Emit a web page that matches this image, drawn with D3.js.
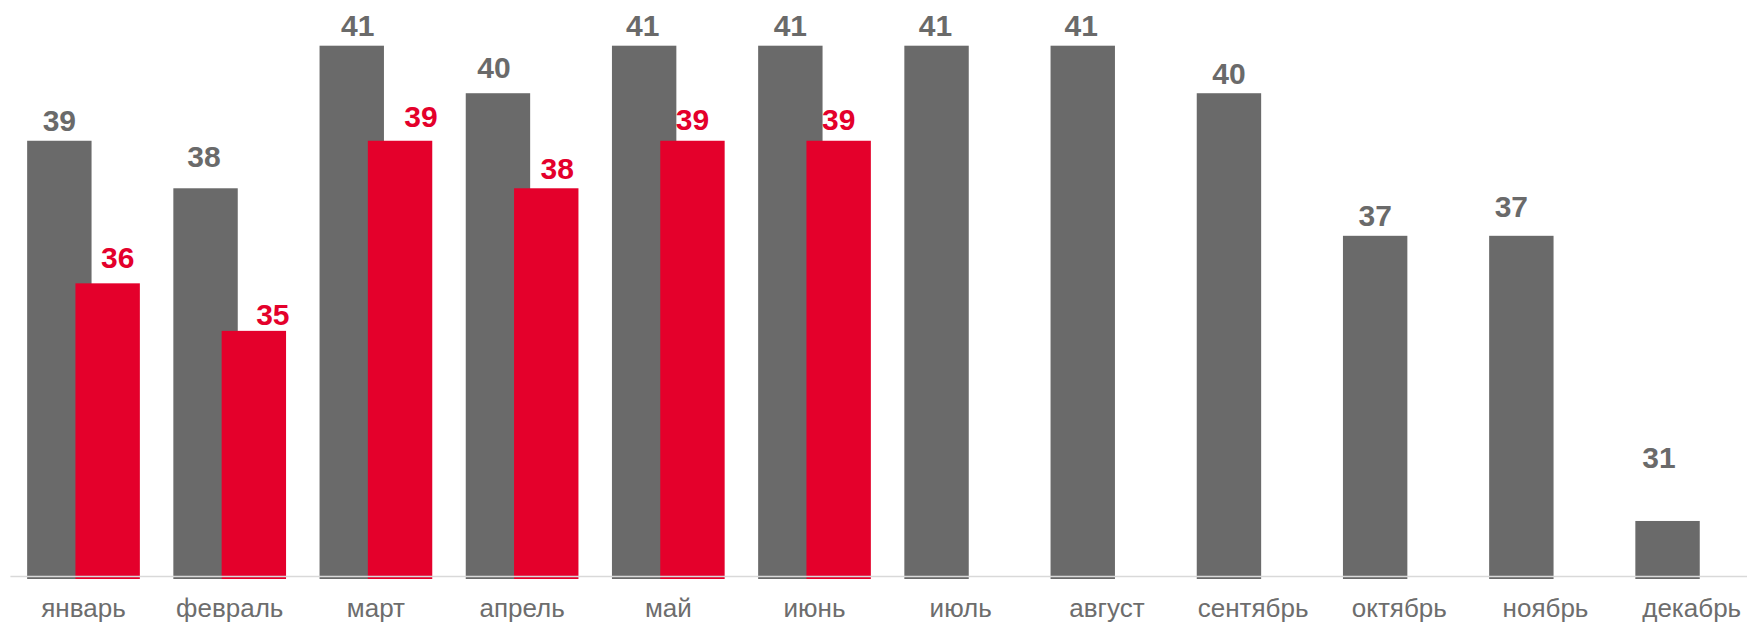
<!DOCTYPE html>
<html>
<head>
<meta charset="utf-8">
<script src="https://cdn.jsdelivr.net/npm/d3@7"></script>
<style>
  html, body { margin: 0; padding: 0; background: #ffffff; overflow: hidden; }
  svg { display: block; }
</style>
</head>
<body>
<svg id="chart" width="1747" height="622"></svg>
<script>
// ---- data ----
const months = ["январь","февраль","март","апрель","май","июнь","июль","август","сентябрь","октябрь","ноябрь","декабрь"];
const seriesGray = [39, 38, 41, 40, 41, 41, 41, 41, 40, 37, 37, 31];
const seriesRed  = [36, 35, 39, 38, 39, 39];

// manual label nudges (layout only) [dx, dy]
const grayLabelNudge = [[0,0],[-1.5,-12],[6,0],[-4,-6],[-1.5,0],[0,0],[-1,0],[-1.5,0],[0,0],[0,0],[-10,-9],[-8.5,-43]];
const redLabelNudge  = [[10,-6],[19,4],[21,-4],[11,0],[0,-1.3],[0,-1.3]];

// ---- layout ----
const W = 1747, H = 622;
const svg = d3.select("#chart");
const gray = "#6a6a6a", red = "#e4002b";
const font = "'Liberation Sans', Arial, sans-serif";

const step = 146.2, x0 = 10.4;
const x = d3.scaleBand().domain(months).range([x0, x0 + step * months.length]).padding(0);
const bw = x.bandwidth();
const barW = bw / 2.27;
const grayOff = bw * 0.26 / 2.27;
const redOff = grayOff + barW * 0.75;

const y = d3.scaleLinear().domain([29.8, 41]).range([578, 45.7]);

// gray bars
svg.append("g").selectAll("rect")
  .data(seriesGray)
  .join("rect")
  .attr("x", (d, i) => x(months[i]) + grayOff)
  .attr("y", d => y(d))
  .attr("width", barW)
  .attr("height", d => y.range()[0] - y(d) + 1)
  .attr("fill", gray);

// red bars
svg.append("g").selectAll("rect")
  .data(seriesRed)
  .join("rect")
  .attr("x", (d, i) => x(months[i]) + redOff)
  .attr("y", d => y(d))
  .attr("width", barW)
  .attr("height", d => y.range()[0] - y(d) + 1)
  .attr("fill", red);

// axis
const axis = svg.append("g")
  .attr("transform", "translate(0,576.5)")
  .call(d3.axisBottom(x).tickSize(0).tickPadding(0));
axis.select(".domain").attr("stroke", "#d9d9d9").attr("stroke-width", 1.4).attr("d", `M${x0},0H${W + 30}`);
axis.selectAll(".tick text")
  .attr("y", 40.5).attr("dy", 0)
  .attr("fill", "#6d6d6d")
  .style("font-family", font)
  .style("font-size", "26px");

// labels
svg.append("g").selectAll("text")
  .data(seriesGray)
  .join("text")
  .attr("x", (d, i) => x(months[i]) + grayOff + barW / 2 + grayLabelNudge[i][0])
  .attr("y", (d, i) => y(d) - 9.7 + grayLabelNudge[i][1])
  .attr("text-anchor", "middle")
  .attr("fill", gray)
  .style("font-family", font)
  .style("font-weight", "bold")
  .style("font-size", "30px")
  .text(d => d);

svg.append("g").selectAll("text")
  .data(seriesRed)
  .join("text")
  .attr("x", (d, i) => x(months[i]) + redOff + barW / 2 + redLabelNudge[i][0])
  .attr("y", (d, i) => y(d) - 9.7 + redLabelNudge[i][1])
  .attr("text-anchor", "middle")
  .attr("fill", red)
  .style("font-family", font)
  .style("font-weight", "bold")
  .style("font-size", "30px")
  .text(d => d);
</script>
</body>
</html>
